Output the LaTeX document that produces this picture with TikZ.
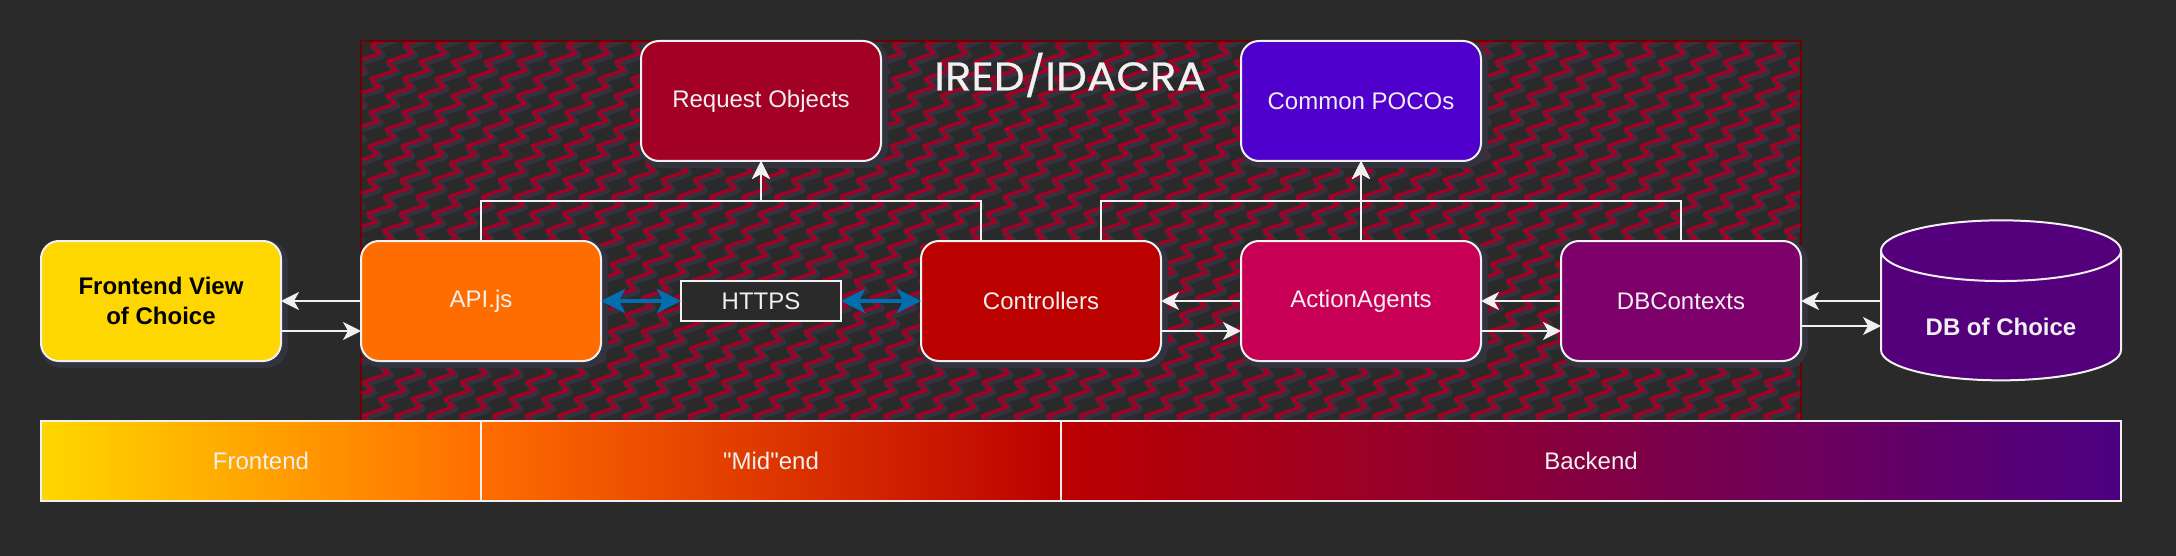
\documentclass[tikz,border=0pt]{standalone}
\usepackage{fontspec}
\setmainfont{Liberation Sans}
\newfontfamily\titlefont[FakeStretch=1.09,FakeBold=0.6]{Poppins}
\usepackage{xcolor}
\usetikzlibrary{positioning,arrows.meta,shapes.geometric}

\definecolor{canvas}{HTML}{2A2A2A}
\definecolor{haze}{HTML}{33333F}
\definecolor{offwhite}{HTML}{F0F0F0}
\definecolor{crimson}{HTML}{A20025}
\definecolor{framered}{HTML}{6F0000}
\definecolor{linkblue}{HTML}{006EAF}
\definecolor{gold}{HTML}{FFD700}
\definecolor{orangeapi}{HTML}{FF6D00}
\definecolor{redctrl}{HTML}{BB0000}
\definecolor{pinkagent}{HTML}{C80055}
\definecolor{purplectx}{HTML}{7E006B}
\definecolor{violetdb}{HTML}{54007C}
\definecolor{indigopoco}{HTML}{5000CC}
\definecolor{indigoend}{HTML}{4B0082}

\begin{document}
\begin{tikzpicture}[
    x=0.5pt,
    y=-0.5pt,
    font=\fontsize{12pt}{15pt}\selectfont,
    box/.style={
        draw=offwhite,
        line width=1pt,
        rounded corners=9pt,
        minimum width=120pt,
        minimum height=60pt,
        outer sep=0pt,
        align=center,
        text=offwhite,
        preaction={draw=haze, line width=4pt, transform canvas={xshift=1.5pt,yshift=-1.5pt}}
    },
    tag/.style={
        draw=offwhite,
        line width=1pt,
        minimum width=80pt,
        minimum height=20pt,
        outer sep=0pt,
        fill=canvas,
        text=offwhite
    },
    band/.style={
        draw=offwhite,
        line width=1pt,
        minimum height=40pt,
        outer sep=0pt,
        text=offwhite
    },
    store/.style={
        cylinder,
        shape border rotate=90,
        shape aspect=0.37,
        cylinder uses custom fill,
        cylinder body fill=violetdb,
        cylinder end fill=violetdb,
        draw=offwhite,
        line width=1pt,
        minimum width=120pt,
        minimum height=80pt,
        outer sep=0pt,
        text=offwhite,
        text height=14pt,
        text depth=0pt,
        font=\fontsize{12pt}{15pt}\selectfont\bfseries
    },
    arrow/.style={-{Stealth[length=9pt,width=9pt,inset=2.5pt]}, line width=1pt, draw=offwhite},
    wire/.style={{Stealth[length=12pt,width=12pt,inset=3pt]}-{Stealth[length=12pt,width=12pt,inset=3pt]}, line width=2pt, draw=linkblue},
    hazeline/.style={draw=haze, line width=3.5pt, line join=round, xshift=1pt, yshift=-1pt},
    hatch/.style={draw=crimson, line width=1.7pt, line join=round}
]

\fill[canvas] (0,0) rectangle (2176,556);
\useasboundingbox (0,0) rectangle (2176,556);

% zigzag fill of the framed area
\begin{scope}
    \clip (361,41) rectangle (1801,421);
    \foreach \look in {hazeline,hatch} {
        \foreach \i in {-1,...,56} {
            \draw[\look, shift={(396.7+32.6*\i,36.45)}] (0,0)
                \foreach \j in {0,...,23} { -- ++(-25,8.4) -- ++(8.3,8.45) };
        }
    }
\end{scope}
\draw[framered, line width=1pt] (361,41) rectangle (1801,421);

\node[font=\titlefont\fontsize{20pt}{20pt}\selectfont, text=offwhite] (title) at (1070,75) {IRED/IDACRA};

\node[box, fill=gold, text=black, font=\fontsize{12pt}{15pt}\selectfont\bfseries] (frontview) at (161,301) {Frontend View\\of Choice};
\node[box, fill=orangeapi, right=40pt of frontview] (api) {API.js};
\node[tag, right=40pt of api] (https) {HTTPS};
\node[box, fill=redctrl, right=40pt of https] (controllers) {Controllers};
\node[box, fill=pinkagent, right=40pt of controllers] (agents) {ActionAgents};
\node[box, fill=purplectx, right=40pt of agents] (contexts) {DBContexts};
\node[store, right=40pt of contexts, yshift=-10pt] (db) {DB of Choice};
\node[box, fill=crimson, above=60pt of https] (request) {Request Objects};
\node[box, fill=indigopoco, above=40pt of agents] (pocos) {Common POCOs};

% legend bar
\node[band, minimum width=220pt, left color=gold, right color=orangeapi] (front) at (261,461) {Frontend};
\node[band, minimum width=290pt, left color=orangeapi, right color=redctrl, right=0pt of front] (mid) {\textquotedbl Mid\textquotedbl end};
\node[band, minimum width=530pt, left color=redctrl, right color=indigoend, right=0pt of mid] (back) {Backend};

\coordinate[below=20pt of request.south] (requestjoin);
\coordinate[below=20pt of pocos.south] (pocosjoin);

% branches going up
\draw[arrow] (api.north) |- (requestjoin) -- (request.south);
\draw[arrow] ([xshift=-30pt]controllers.north) |- (requestjoin) -- (request.south);
\draw[arrow] (agents.north) -- (pocos.south);
\draw[arrow] ([xshift=30pt]controllers.north) |- (pocosjoin) -- (pocos.south);
\draw[arrow] (contexts.north) |- (pocosjoin) -- (pocos.south);

% pairs of arrows between the layers
\draw[arrow] (api.west) -- (frontview.east);
\draw[arrow] ([yshift=-15pt]frontview.east) -- ([yshift=-15pt]api.west);
\draw[arrow] (agents.west) -- (controllers.east);
\draw[arrow] ([yshift=-15pt]controllers.east) -- ([yshift=-15pt]agents.west);
\draw[arrow] (contexts.west) -- (agents.east);
\draw[arrow] ([yshift=-15pt]agents.east) -- ([yshift=-15pt]contexts.west);
\draw[arrow] (db.west |- contexts.east) -- (contexts.east);
\draw[arrow] ([yshift=-12.5pt]contexts.east) -- ([yshift=-2.5pt]db.west);

\draw[wire] (api.east) -- (https.west);
\draw[wire] (https.east) -- (controllers.west);

\end{tikzpicture}
\end{document}
